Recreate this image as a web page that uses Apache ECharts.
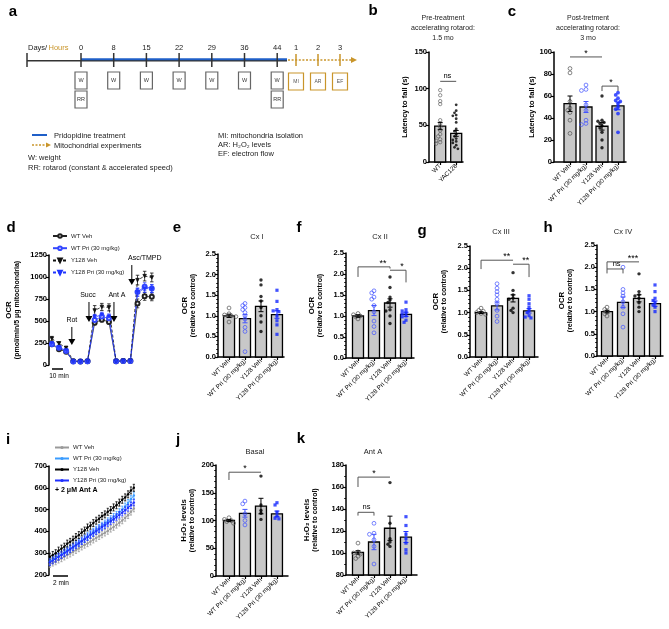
<!DOCTYPE html>
<html><head><meta charset="utf-8">
<script src="https://cdn.jsdelivr.net/npm/echarts@6/dist/echarts.min.js"></script>
<style>html,body{margin:0;padding:0;background:#fff}#c{width:669px;height:629px}</style>
</head><body><div id="c"></div>
<script>
// ---------------- DATA ----------------
const groupNames = ['WT Veh', 'WT Pri (30 mg/kg)', 'Y128 Veh', 'Y128 Pri (30 mg/kg)'];

// a: timeline
const aDays = ['0', '8', '15', '22', '29', '36', '44'];
const aHours = ['1', '2', '3'];
const aHourBoxes = ['MI', 'AR', 'EF'];
const aLegend = ['Pridopidine treatment', 'Mitochondrial experiments'];
const aNotesLeft = ['W: weight', 'RR: rotarod (constant & accelerated speed)'];
const aNotesRight = ['MI: mitochondria isolation', 'AR: H\u2082O\u2082 levels', 'EF: electron flow'];

// b
const bCats = ['WT', 'YAC128'];
const bMeans = [49, 39];
const bSem = [5, 4];
const bWT = [98, 91, 83, 79, 57, 52, 47, 43, 38, 35, 31, 29, 27, 25];
const bYAC = [78, 70, 67, 64, 63, 59, 54, 45, 42, 38, 35, 32, 30, 28, 26, 23, 20, 18];
const bBrackets = [[0, 1, 110, 110, 110, 'ns', 0.45]];

// c
const cMeans = [53, 50, 32.5, 51];
const cSem = [7, 5, 3.5, 3.5];
const cWTVeh = [85, 81, 55, 49, 47, 45, 38, 26];
const cWTPri = [70, 66, 65, 52, 47, 38, 35, 34];
const cY128Veh = [60, 38, 37, 36, 35, 33, 31, 27, 20, 13];
const cY128Pri = [63, 61, 58, 56, 55, 53, 50, 48, 44, 27];
const cBrackets = [[0, 2, 95.5, 95.5, 95.5, '*', 0.5], [2, 3, 69, 64.5, 64.5, '*', 0.56]];

// d
const dWTVeh = [235, 180, 150, 42, 40, 42, 480, 515, 490, 42, 45, 45, 700, 780, 775];
const dWTPri = [235, 195, 160, 40, 40, 42, 510, 550, 530, 42, 45, 45, 830, 890, 870];
const dY128Veh = [300, 245, 195, 45, 42, 44, 620, 660, 655, 45, 48, 48, 965, 1010, 995];
const dY128Pri = [245, 200, 165, 42, 40, 42, 545, 570, 550, 42, 46, 46, 825, 870, 865];
const dWTVehSem = [20, 15, 12, 5, 5, 5, 25, 25, 25, 5, 5, 5, 50, 45, 45];
const dWTPriSem = [20, 15, 12, 5, 5, 5, 25, 30, 30, 5, 5, 5, 45, 45, 45];
const dY128VehSem = [25, 20, 15, 5, 5, 5, 55, 40, 40, 5, 5, 5, 55, 55, 50];
const dY128PriSem = [20, 15, 12, 5, 5, 5, 30, 30, 30, 5, 5, 5, 45, 45, 45];
const dArrowLabels = ['Rot', 'Succ', 'Ant A', 'Asc/TMPD'];
const dArrowX = [2.8, 5.2, 8.7, 11.2];
const dArrowFrom = [432, 716, 716, 1136];
const dArrowTo = [227, 489, 489, 909];

// e  Cx I
const eMeans = [1.0, 0.93, 1.23, 1.03];
const eSem = [0.04, 0.1, 0.13, 0.09];
const eWTVeh = [1.19, 1.05, 1.02, 1.0, 0.98, 0.85];
const eWTPri = [1.3, 1.25, 1.2, 1.15, 1.08, 1.0, 0.92, 0.72, 0.62, 0.13];
const eY128Veh = [1.87, 1.75, 1.47, 1.36, 1.2, 1.0, 0.85, 0.62];
const eY128Pri = [1.62, 1.35, 1.15, 1.12, 1.1, 1.0, 0.88, 0.78, 0.55];

// f  Cx II
const fMeans = [1.0, 1.13, 1.31, 1.04];
const fSem = [0.03, 0.12, 0.1, 0.05];
const fWTVeh = [1.06, 1.03, 1.0, 0.98, 0.93];
const fWTPri = [1.6, 1.55, 1.45, 1.4, 1.25, 1.1, 0.88, 0.75, 0.6];
const fY128Veh = [1.93, 1.68, 1.45, 1.38, 1.32, 1.15, 1.12, 1.0, 0.82];
const fY128Pri = [1.33, 1.15, 1.12, 1.08, 1.05, 1.0, 0.98, 0.9, 0.85];
const fBrackets = [[0, 2, 2.17, 1.93, 2.13, '**', 0.78], [2, 3, 2.09, 2.09, 1.8, '*', 0.75]];

// g  Cx III
const gMeans = [1.0, 1.15, 1.32, 1.04];
const gSem = [0.02, 0.09, 0.08, 0.05];
const gWTVeh = [1.1, 1.05, 1.03, 1.0, 0.98, 0.96];
const gWTPri = [1.65, 1.55, 1.47, 1.4, 1.3, 1.2, 1.05, 0.92, 0.8];
const gY128Veh = [1.9, 1.5, 1.4, 1.33, 1.3, 1.1, 1.05, 1.0];
const gY128Pri = [1.38, 1.3, 1.2, 1.12, 1.05, 1.0, 0.93, 0.9, 0.88];
const gBrackets = [[0, 2, 2.18, 1.98, 2.18, '**', 0.8], [2, 3, 2.09, 2.09, 1.8, '**', 0.8]];

// h  Cx IV
const hMeans = [1.0, 1.21, 1.3, 1.18];
const hSem = [0.03, 0.12, 0.08, 0.06];
const hWTVeh = [1.1, 1.05, 1.0, 0.95, 0.9];
const hWTPri = [2.0, 1.5, 1.42, 1.35, 1.22, 1.1, 0.95, 0.65];
const hY128Veh = [1.85, 1.45, 1.38, 1.35, 1.3, 1.2, 1.1, 1.0];
const hY128Pri = [1.6, 1.45, 1.3, 1.25, 1.2, 1.15, 1.1, 1.0];
const hBrackets = [[0, 2, 2.12, 1.86, 2.12, '***', 0.81], [0, 1, 1.96, 1.96, 1.86, 'ns', 0.6]];

// i  H2O2 kinetics
const iWTVeh = [250, 256, 262, 270, 276, 284, 292, 298, 306, 314, 322, 330, 338, 345, 353, 362, 370, 378, 386, 394, 402, 412, 420, 430, 440, 450, 462, 474, 490, 505];
const iWTPri = [262, 270, 278, 286, 295, 304, 313, 322, 330, 340, 350, 358, 368, 378, 388, 398, 408, 416, 426, 436, 446, 456, 466, 476, 488, 500, 514, 530, 548, 565];
const iY128Veh = [284, 292, 300, 312, 321, 330, 344, 352, 362, 374, 383, 395, 404, 418, 426, 438, 449, 458, 470, 478, 490, 498, 510, 520, 532, 545, 556, 570, 588, 600];
const iY128Pri = [258, 266, 274, 283, 291, 300, 308, 318, 327, 336, 345, 355, 364, 373, 383, 392, 401, 410, 420, 428, 438, 447, 456, 466, 476, 486, 497, 508, 520, 532];
const iSem = [15, 16, 16, 15];

// j  Basal
const jMeans = [100, 113, 126, 112];
const jSem = [2, 7, 14, 5];
const jWTVeh = [105, 102, 100, 98, 95];
const jWTPri = [135, 130, 112, 100, 92];
const jY128Veh = [180, 128, 118, 113, 102];
const jY128Pri = [132, 128, 115, 108, 104, 103];
const jBrackets = [[0, 2, 187, 173, 187, '*', 0.5]];

// k  Ant A
const kMeans = [100.5, 110, 122.5, 114.5];
const kSem = [1.5, 7, 11, 5];
const kWTVeh = [109, 101, 100, 99, 97, 95];
const kWTPri = [127, 118, 117, 112, 106, 90];
const kY128Veh = [164, 127, 113, 110, 108, 106];
const kY128Pri = [133, 125, 117, 113, 109, 103, 100];
const kBrackets = [[0, 2, 169, 160, 169, '*', 0.5], [0, 1, 137, 134, 134, 'ns', 0.53]];

// ---------------- STYLE / LAYOUT ----------------
const FONT = '"Liberation Sans", Arial, Helvetica, sans-serif';
const ORANGE = '#c9952a';
const BLUE_OPEN = '#4455ff';
const BLUE = '#1428ff';
const layout = {
  b: {left: 429, top: 52, width: 34, height: 110, xMin: -0.7, xMax: 1.425, yMin: 0, yMax: 150, yInt: 50, bw: 11, nameGap: 20},
  c: {left: 554, top: 52, width: 72, height: 110, xMin: -1, xMax: 3.5, yMin: 0, yMax: 100, yInt: 20, bw: 12, nameGap: 17},
  d: {left: 49, top: 255, width: 106, height: 110, xMin: -0.4, xMax: 14.45, yMin: 0, yMax: 1250, yInt: 250, nameGap: 27},
  e: {left: 218, top: 254, width: 66, height: 103, xMin: -0.69, xMax: 3.44, yMin: 0, yMax: 2.5, yInt: 0.5, minor: 5, bw: 11, nameGap: 20},
  f: {left: 346, top: 253, width: 68, height: 105, xMin: -0.75, xMax: 3.5, yMin: 0, yMax: 2.5, yInt: 0.5, minor: 5, bw: 11, nameGap: 21},
  g: {left: 470, top: 246, width: 68, height: 111, xMin: -0.69, xMax: 3.56, yMin: 0, yMax: 2.5, yInt: 0.5, minor: 5, bw: 11, nameGap: 21},
  h: {left: 597, top: 245, width: 66, height: 111, xMin: -0.625, xMax: 3.5, yMin: 0, yMax: 2.5, yInt: 0.5, minor: 5, bw: 11, nameGap: 22},
  i: {left: 49, top: 466, width: 86, height: 109, xMin: -0.3, xMax: 29.4, yMin: 200, yMax: 700, yInt: 100},
  j: {left: 216, top: 465, width: 72, height: 111, xMin: -0.81, xMax: 3.69, yMin: 0, yMax: 200, yInt: 50, minor: 5, bw: 11, nameGap: 19},
  k: {left: 346, top: 465, width: 71, height: 110, xMin: -0.75, xMax: 3.69, yMin: 80, yMax: 180, yInt: 20, minor: 2, bw: 11, nameGap: 26}
};
const OCR_NAME = '{b|OCR}\n{n|(relative to control)}';
const H2O2_NAME = '{b|H\u2082O\u2082 levels}\n{n|(relative to control)}';

const ptStyle = [
  {symbol: 'circle', size: 3.8, itemStyle: {color: 'rgba(0,0,0,0)', borderColor: '#555', borderWidth: 0.9}},
  {symbol: 'circle', size: 3.8, itemStyle: {color: 'rgba(0,0,0,0)', borderColor: BLUE_OPEN, borderWidth: 0.9}},
  {symbol: 'circle', size: 3.4, itemStyle: {color: '#000'}},
  {symbol: 'rect', size: 3.2, itemStyle: {color: BLUE}}
];
const errColors = ['#000', BLUE_OPEN, '#000', BLUE];

// ---------------- BUILD ----------------
const grids = [], xAxes = [], yAxes = [], series = [], graphics = [];

function addGrid(p, cats, yName, fmt) {
  const gi = grids.length;
  grids.push({left: p.left, top: p.top, width: p.width, height: p.height, containLabel: false, outerBoundsMode: 'none'});
  const showX = !!cats;
  const cv = cats ? cats.map((c, i) => i) : undefined;
  xAxes.push({
    gridIndex: gi, type: 'value', min: p.xMin, max: p.xMax, splitLine: {show: false},
    axisLine: {show: showX, onZero: false, lineStyle: {color: '#000', width: 1.5}},
    axisTick: {show: showX, customValues: cv, length: 3, lineStyle: {color: '#000', width: 1.2}},
    axisLabel: {show: showX, customValues: cv, rotate: 45, fontSize: 6.3, fontFamily: FONT, color: '#000', margin: 3,
      formatter: v => cats ? (cats[Math.round(v)] || '') : ''}
  });
  yAxes.push({
    gridIndex: gi, type: 'value', min: p.yMin, max: p.yMax, interval: p.yInt, splitLine: {show: false},
    axisLine: {show: true, onZero: false, lineStyle: {color: '#000', width: 1.5}},
    axisTick: {show: true, length: 3, lineStyle: {color: '#000', width: 1.2}},
    minorTick: {show: !!p.minor, splitNumber: p.minor || 5, length: 1.8, lineStyle: {color: '#000', width: 0.9}},
    axisLabel: {fontSize: 7.5, fontWeight: 'bold', fontFamily: FONT, color: '#000', margin: 2, formatter: fmt || (v => String(v))},
    name: yName || '', nameLocation: 'middle', nameRotate: 90, nameGap: p.nameGap || 20,
    nameTextStyle: {fontSize: 7.5, fontWeight: 'bold', fontFamily: FONT, color: '#000',
      rich: {b: {fontSize: 7.8, fontWeight: 'bold', fontFamily: FONT, color: '#000', lineHeight: 9},
             n: {fontSize: 7, fontFamily: FONT, color: '#000', lineHeight: 9}}}
  });
  return gi;
}

function swarmOffsets(vals, pxPerUnit, size, maxSteps) {
  const order = vals.map((v, i) => i).sort((a, b) => vals[b] - vals[a]);
  const placed = [], off = vals.map(() => 0);
  const cands = [0];
  for (let s = 1; s <= maxSteps; s++) { cands.push(-s, s); }
  const step = size * 0.6, minD = size * 0.8;
  order.forEach(i => {
    const y = vals[i] * pxPerUnit;
    let best = cands[cands.length - 1] * step;
    for (const c of cands) {
      const x = c * step;
      if (placed.every(p => Math.hypot(p[0] - x, p[1] - y) >= minD)) { best = x; break; }
    }
    off[i] = best; placed.push([best, y]);
  });
  return off;
}

function barPanel(key, cats, means, sems, groups, styles, eColors, brackets, yName, fmt) {
  const p = layout[key];
  const gi = addGrid(p, cats, yName, fmt);
  const ppu = p.height / (p.yMax - p.yMin);
  series.push({
    type: 'custom', xAxisIndex: gi, yAxisIndex: gi, silent: true, z: 1,
    data: means.map((m, i) => [i, m]),
    renderItem: (params, api) => {
      const x = api.value(0), y = api.value(1);
      const t = api.coord([x, y]), b = api.coord([x, p.yMin]);
      return {type: 'rect', shape: {x: t[0] - p.bw / 2, y: t[1], width: p.bw, height: b[1] - t[1]},
        style: {fill: '#c8c8c8', stroke: '#000', lineWidth: 1.3}};
    }
  });
  groups.forEach((vals, gIdx) => {
    const st = styles[gIdx];
    const offs = swarmOffsets(vals, ppu, st.size, 3);
    series.push({
      type: 'scatter', xAxisIndex: gi, yAxisIndex: gi, silent: true, z: 3,
      symbol: st.symbol, symbolSize: st.size, itemStyle: st.itemStyle,
      data: vals.map((v, k) => ({value: [gIdx, v], symbolOffset: [offs[k], 0]}))
    });
  });
  series.push(errSeries(gi, means.map((m, i) => [i, m, sems[i]]), i => eColors[i], 5, 1, 4));
  (brackets || []).forEach(br => series.push(bracketSeries(gi, br)));
  return gi;
}

function errSeries(gi, data, colorFn, cap, lw, z) {
  return {
    type: 'custom', xAxisIndex: gi, yAxisIndex: gi, silent: true, z: z,
    data: data,
    renderItem: (params, api) => {
      const x = api.value(0), m = api.value(1), s = api.value(2);
      const a = api.coord([x, m + s]), b = api.coord([x, m - s]);
      const c = colorFn(params.dataIndex), w = cap / 2;
      const st = {stroke: c, lineWidth: lw};
      return {type: 'group', children: [
        {type: 'line', shape: {x1: a[0], y1: a[1], x2: b[0], y2: b[1]}, style: st},
        {type: 'line', shape: {x1: a[0] - w, y1: a[1], x2: a[0] + w, y2: a[1]}, style: st},
        {type: 'line', shape: {x1: b[0] - w, y1: b[1], x2: b[0] + w, y2: b[1]}, style: st}
      ]};
    }
  };
}

function bracketSeries(gi, br) {
  return {
    type: 'custom', xAxisIndex: gi, yAxisIndex: gi, silent: true, z: 6,
    data: [[br[0], br[2]]],
    renderItem: (params, api) => {
      const pL = api.coord([br[0], br[3]]), pLt = api.coord([br[0], br[2]]);
      const pRt = api.coord([br[1], br[2]]), pR = api.coord([br[1], br[4]]);
      const isStar = br[5].indexOf('*') >= 0;
      const tx = pLt[0] + (pRt[0] - pLt[0]) * br[6];
      return {type: 'group', children: [
        {type: 'polyline', shape: {points: [pL, pLt, pRt, pR]}, style: {stroke: '#555', lineWidth: 1, fill: null}},
        {type: 'text', x: tx, y: pLt[1] + (isStar ? 1 : -1.5),
          style: {text: br[5], font: (isStar ? '9px ' : '7.5px ') + FONT, fill: '#000', align: 'center', verticalAlign: 'bottom'}}
      ]};
    }
  };
}

// ---- b ----
barPanel('b', bCats, bMeans, bSem, [bWT, bYAC],
  [{symbol: 'circle', size: 3.4, itemStyle: {color: 'rgba(0,0,0,0)', borderColor: '#555', borderWidth: 0.8}},
   {symbol: 'circle', size: 2.8, itemStyle: {color: '#000'}}],
  ['#000', '#000'], bBrackets, 'Latency to fall (s)');
// ---- c ----
barPanel('c', groupNames, cMeans, cSem, [cWTVeh, cWTPri, cY128Veh, cY128Pri],
  [ptStyle[0], ptStyle[1], ptStyle[2], {symbol: 'circle', size: 3.8, itemStyle: {color: BLUE}}],
  errColors, cBrackets, 'Latency to fall (s)');
// ---- e-h ----
const f1 = v => v.toFixed(1);
barPanel('e', groupNames, eMeans, eSem, [eWTVeh, eWTPri, eY128Veh, eY128Pri], ptStyle, errColors, [], OCR_NAME, f1);
barPanel('f', groupNames, fMeans, fSem, [fWTVeh, fWTPri, fY128Veh, fY128Pri], ptStyle, errColors, fBrackets, OCR_NAME, f1);
barPanel('g', groupNames, gMeans, gSem, [gWTVeh, gWTPri, gY128Veh, gY128Pri], ptStyle, errColors, gBrackets, OCR_NAME, f1);
barPanel('h', groupNames, hMeans, hSem, [hWTVeh, hWTPri, hY128Veh, hY128Pri], ptStyle, errColors, hBrackets, OCR_NAME, f1);
// ---- j, k ----
barPanel('j', groupNames, jMeans, jSem, [jWTVeh, jWTPri, jY128Veh, jY128Pri], ptStyle, errColors, jBrackets, H2O2_NAME);
barPanel('k', groupNames, kMeans, kSem, [kWTVeh, kWTPri, kY128Veh, kY128Pri], ptStyle, errColors, kBrackets, H2O2_NAME);

// ---- d ----
const TRI_DOWN = 'path://M0,0L10,0L5,9Z';
const dGi = addGrid(layout.d, null, '{b|OCR}\n{n|(pmol/min/5 \u03bcg mitochondria)}');
const dSets = [dWTVeh, dWTPri, dY128Veh, dY128Pri];
const dSems = [dWTVehSem, dWTPriSem, dY128VehSem, dY128PriSem];
const dLook = [
  {color: '#222', symbol: 'emptyCircle', type: 'solid', size: 4},
  {color: '#3347ff', symbol: 'emptyCircle', type: 'solid', size: 4},
  {color: '#111', symbol: TRI_DOWN, type: [3, 2], size: 3.5},
  {color: '#2035ff', symbol: TRI_DOWN, type: [3, 2], size: 3.5}
];
dSets.forEach((vals, s) => {
  series.push(errSeries(dGi, vals.map((v, i) => [i, v, dSems[s][i]]), () => dLook[s].color, 3.5, 0.8, 2));
});
dSets.forEach((vals, s) => {
  series.push({
    type: 'line', name: 'd|' + groupNames[s], xAxisIndex: dGi, yAxisIndex: dGi, silent: true, z: 3,
    data: vals.map((v, i) => [i, v]), symbol: dLook[s].symbol, symbolSize: dLook[s].size, showAllSymbol: true,
    lineStyle: {color: dLook[s].color, width: 0.8, type: dLook[s].type},
    itemStyle: {color: dLook[s].color, borderColor: dLook[s].color, borderWidth: 0.8}
  });
});
const dArrowLabelDx = [0, -1, 3, 13];
series.push({
  type: 'custom', xAxisIndex: dGi, yAxisIndex: dGi, silent: true, z: 7,
  data: dArrowX.map((x, i) => [x, dArrowFrom[i], dArrowTo[i]]),
  renderItem: (params, api) => {
    const i = params.dataIndex;
    const a = api.coord([api.value(0), api.value(1)]), b = api.coord([api.value(0), api.value(2)]);
    return {type: 'group', children: [
      {type: 'line', shape: {x1: a[0], y1: a[1], x2: b[0], y2: b[1] - 4}, style: {stroke: '#000', lineWidth: 1}},
      {type: 'polygon', shape: {points: [[b[0] - 3.5, b[1] - 6], [b[0] + 3.5, b[1] - 6], [b[0], b[1]]]}, style: {fill: '#000'}},
      {type: 'text', x: a[0] + dArrowLabelDx[i], y: a[1] - 3,
        style: {text: dArrowLabels[i], font: '7px ' + FONT, fill: '#000', align: 'center', verticalAlign: 'bottom'}}
    ]};
  }
});

// ---- i ----
const iGi = addGrid(layout.i, null, '');
const iSets = [iWTVeh, iWTPri, iY128Veh, iY128Pri];
const iColors = ['#9a9a9a', '#3a9cff', '#000', '#2030ff'];
iSets.forEach((vals, s) => {
  series.push(errSeries(iGi, vals.map((v, i) => [i, v, iSem[s]]), () => iColors[s], 2.2, 0.8, 2 + s));
  series.push({
    type: 'line', name: 'i|' + groupNames[s], xAxisIndex: iGi, yAxisIndex: iGi, silent: true, z: 3 + s,
    data: vals.map((v, i) => [i, v]), symbol: 'circle', symbolSize: 2.4, showAllSymbol: true,
    lineStyle: {color: iColors[s], width: 1}, itemStyle: {color: iColors[s]}
  });
});

// ---------------- GRAPHICS (schematic / annotations) ----------------
function gl(x1, y1, x2, y2, stroke, w, dash) {
  return {type: 'line', silent: true, shape: {x1, y1, x2, y2}, style: {stroke, lineWidth: w, lineDash: dash || null}};
}
function gt(x, y, t, font, fill, align) {
  return {type: 'text', silent: true, x, y, style: {text: t, font: font, fill: fill || '#000', align: align || 'left', verticalAlign: 'middle'}};
}
function grect(x, y, w, h, stroke, lw) {
  return {type: 'rect', silent: true, shape: {x, y, width: w, height: h}, style: {fill: '#fff', stroke, lineWidth: lw}};
}
const F75 = '7.5px ' + FONT, FL = 'bold 15px ' + FONT;

// panel a timeline
const aY = 60, dayX0 = 81, dayStep = 32.7, hourX0 = 296, hourStep = 22;
graphics.push(gl(27, aY + 0.8, 287, aY + 0.8, '#333', 1.5));
graphics.push(gl(dayX0, aY - 0.8, 287, aY - 0.8, '#1f5fc8', 2));
graphics.push(gl(27, aY - 7, 27, aY + 7, '#333', 1.5));
graphics.push(gt(28, 48, 'Days/', F75, '#222'));
graphics.push(gt(48.5, 48, 'Hours', F75, ORANGE));
aDays.forEach((d, i) => {
  const x = dayX0 + i * dayStep;
  graphics.push(gl(x, aY - 7, x, aY + 7, '#333', 1.5));
  graphics.push(gt(x, 48, d, F75, '#222', 'center'));
  graphics.push(grect(x - 6, 72, 12, 17, '#666', 1.2));
  graphics.push(gt(x, 80.5, 'W', '5.5px ' + FONT, '#333', 'center'));
  if (i === 0 || i === aDays.length - 1) {
    graphics.push(grect(x - 6, 91, 12, 17, '#666', 1.2));
    graphics.push(gt(x, 99.5, 'RR', '5.5px ' + FONT, '#333', 'center'));
  }
});
graphics.push(gl(288, aY, 352, aY, ORANGE, 1.6, [2, 1.6]));
graphics.push({type: 'polygon', silent: true, shape: {points: [[351, aY - 3], [357, aY], [351, aY + 3]]}, style: {fill: ORANGE}});
aHours.forEach((h, i) => {
  const x = hourX0 + i * hourStep;
  graphics.push(gl(x, aY - 6, x, aY + 6, ORANGE, 1.5));
  graphics.push(gt(x, 48, h, F75, '#222', 'center'));
  graphics.push(grect(x - 7.5, 73, 15, 17, ORANGE, 1.2));
  graphics.push(gt(x, 81.5, aHourBoxes[i], '5px ' + FONT, '#555', 'center'));
});
// a legend
graphics.push(gl(32, 135, 47, 135, '#1f5fc8', 2));
graphics.push(gt(54, 135.5, aLegend[0], F75, '#222'));
graphics.push(gl(32, 145, 46, 145, ORANGE, 1.5, [2, 1.5]));
graphics.push({type: 'polygon', silent: true, shape: {points: [[46, 142.5], [51, 145], [46, 147.5]]}, style: {fill: ORANGE}});
graphics.push(gt(54, 145.5, aLegend[1], F75, '#222'));
aNotesLeft.forEach((t, i) => graphics.push(gt(28, 158 + i * 9.5, t, F75, '#222')));
aNotesRight.forEach((t, i) => graphics.push(gt(218, 136 + i * 9, t, F75, '#222')));

// panel letters
[['a', 13, 12], ['b', 373, 11], ['c', 512, 12], ['d', 11, 228], ['e', 177, 228], ['f', 299, 228],
 ['g', 422, 231], ['h', 548, 228], ['i', 8, 440], ['j', 178, 440], ['k', 301, 439]].forEach(l =>
  graphics.push(gt(l[1], l[2], l[0], FL, '#000', 'center')));

// titles
const F7 = '7px ' + FONT;
['Pre-treatment', 'accelerating rotarod:', '1.5 mo'].forEach((t, i) => graphics.push(gt(443, 18 + i * 10, t, F7, '#222', 'center')));
['Post-tretment', 'accelerating rotarod:', '3 mo'].forEach((t, i) => graphics.push(gt(588, 18 + i * 10, t, F7, '#222', 'center')));
[['Cx I', 257, 237], ['Cx II', 380, 237], ['Cx III', 501, 232], ['Cx IV', 623, 232], ['Basal', 255, 452], ['Ant A', 373, 452]]
  .forEach(t => graphics.push(gt(t[1], t[2], t[0], '7.5px ' + FONT, '#222', 'center')));

// d scale bar
graphics.push(gl(52, 369, 63, 369, '#000', 1.5));
graphics.push(gt(59, 376, '10 min', '6.5px ' + FONT, '#000', 'center'));
// i annotations
graphics.push(gl(53, 576, 68, 576, '#000', 1.5));
graphics.push(gt(61, 583, '2 min', '6.5px ' + FONT, '#000', 'center'));
graphics.push(gt(55, 490, '+ 2 \u03bcM Ant A', 'bold 7px ' + FONT, '#000'));

// ---------------- CHART ----------------
const legendBase = {orient: 'vertical', selectedMode: false, padding: 0, itemWidth: 14,
  textStyle: {fontSize: 6, fontFamily: FONT, color: '#222', padding: [0, 0, 0, -1]},
  formatter: n => n.split('|')[1]};
const chart = echarts.init(document.getElementById('c'), null, {renderer: 'canvas'});
chart.setOption({
  backgroundColor: '#fff',
  animation: false,
  grid: grids, xAxis: xAxes, yAxis: yAxes, series: series,
  legend: [
    Object.assign({}, legendBase, {left: 52, top: 233, itemHeight: 4.5, itemGap: 6.2, data: groupNames.map(n => 'd|' + n)}),
    Object.assign({}, legendBase, {left: 54, top: 444.5, itemHeight: 4, itemGap: 5, data: groupNames.map(n => 'i|' + n)})
  ],
  graphic: {elements: graphics}
});
</script></body></html>
